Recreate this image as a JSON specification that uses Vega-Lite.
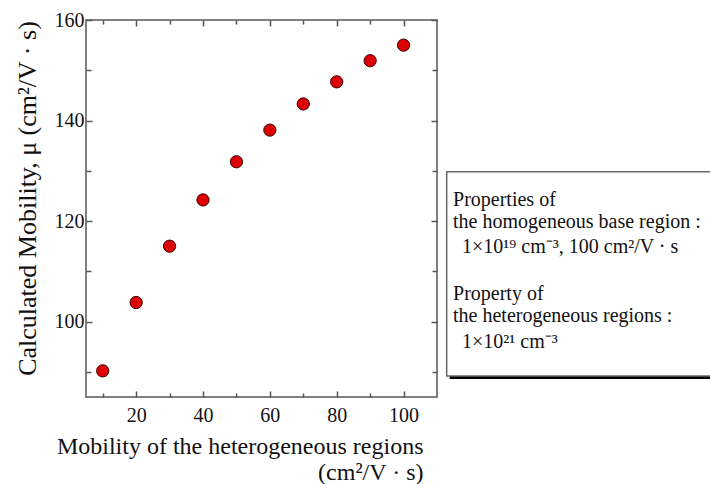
{
  "$schema": "https://vega.github.io/schema/vega-lite/v6.json",
  "width": 351,
  "height": 377,
  "autosize": {"type": "none"},
  "padding": {"left": 86, "top": 20, "right": 273, "bottom": 87},
  "background": "white",
  "config": {
    "view": {"stroke": "#808080", "strokeWidth": 2},
    "font": "Liberation Serif",
    "axis": {
      "domain": false,
      "grid": false,
      "tickColor": "#555555",
      "tickWidth": 1.5,
      "labelFont": "Liberation Serif",
      "labelFontSize": 20,
      "labelColor": "#111111",
      "titleFont": "Liberation Serif",
      "titleFontWeight": "normal",
      "titleColor": "#111111"
    }
  },
  "datasets": {
    "pts": [
      {"het": 10, "mu": 90.2},
      {"het": 20, "mu": 103.8},
      {"het": 30, "mu": 115.0},
      {"het": 40, "mu": 124.2},
      {"het": 50, "mu": 131.8},
      {"het": 60, "mu": 138.1},
      {"het": 70, "mu": 143.3},
      {"het": 80, "mu": 147.7},
      {"het": 90, "mu": 151.9},
      {"het": 100, "mu": 155.0}
    ],
    "notes": [
      {"para": 1, "kind": "heading", "text": "Properties of\nthe homogeneous base region  :"},
      {"para": 2, "kind": "value", "text": "1×10¹⁹ cm⁻³, 100 cm²/V · s"},
      {"para": 3, "kind": "heading", "text": "Property of\nthe heterogeneous regions  :"},
      {"para": 4, "kind": "value", "text": "1×10²¹ cm⁻³"}
    ]
  },
  "layer": [
    {
      "data": {"values": [{}]},
      "mark": {"type": "rect", "fill": "#000000", "clip": false},
      "encoding": {
        "x": {"datum": 113.8, "type": "quantitative", "scale": {"domain": [5, 110], "nice": false, "zero": false}, "axis": null},
        "x2": {"datum": 196},
        "y": {"datum": 129.2, "type": "quantitative", "scale": {"domain": [85, 160], "nice": false, "zero": false}, "axis": null},
        "y2": {"datum": 88.6}
      }
    },
    {
      "data": {"values": [{}]},
      "mark": {"type": "rect", "fill": "#ffffff", "stroke": "#666666", "strokeWidth": 1.5, "clip": false},
      "encoding": {
        "x": {"datum": 112.9, "type": "quantitative", "scale": {"domain": [5, 110], "nice": false, "zero": false}, "axis": null},
        "x2": {"datum": 195},
        "y": {"datum": 129.8, "type": "quantitative", "scale": {"domain": [85, 160], "nice": false, "zero": false}, "axis": null},
        "y2": {"datum": 89.2}
      }
    },
    {
      "data": {"name": "notes"},
      "transform": [{"filter": "datum.kind === 'heading'"}],
      "mark": {"type": "text", "align": "left", "baseline": "alphabetic", "font": "Liberation Serif", "fontSize": 20, "lineBreak": "\n", "lineHeight": 22, "color": "#111111", "clip": false},
      "encoding": {
        "x": {"datum": 114.8, "type": "quantitative", "scale": {"domain": [5, 110], "nice": false, "zero": false}, "axis": null},
        "y": {"field": "para", "type": "quantitative", "scale": {"domain": [-2.95, 5.05], "reverse": true, "nice": false, "zero": false}, "axis": null},
        "text": {"field": "text", "type": "nominal"}
      }
    },
    {
      "data": {"name": "notes"},
      "transform": [{"filter": "datum.kind === 'value'"}],
      "mark": {"type": "text", "align": "left", "baseline": "alphabetic", "font": "Liberation Serif", "fontSize": 20, "lineBreak": "\n", "lineHeight": 22, "color": "#111111", "clip": false},
      "encoding": {
        "x": {"datum": 117.5, "type": "quantitative", "scale": {"domain": [5, 110], "nice": false, "zero": false}, "axis": null},
        "y": {"field": "para", "type": "quantitative", "scale": {"domain": [-2.95, 5.05], "reverse": true, "nice": false, "zero": false}, "axis": null},
        "text": {"field": "text", "type": "nominal"}
      }
    },
    {
      "data": {"name": "pts"},
      "mark": {"type": "point", "filled": true, "shape": "circle", "size": 150, "fill": "#dd0000", "stroke": "#3a0000", "strokeWidth": 1, "opacity": 1},
      "encoding": {
        "x": {
          "field": "het", "type": "quantitative",
          "scale": {"domain": [5, 110], "nice": false, "zero": false},
          "axis": {
            "orient": "bottom",
            "values": [10, 20, 30, 40, 50, 60, 70, 80, 90, 100],
            "labelExpr": "datum.value % 20 === 0 ? datum.label : ''",
            "tickSize": {"condition": {"test": "datum.value % 20 === 0", "value": -6}, "value": -4},
            "labelPadding": 14,
            "title": ["Mobility of the heterogeneous regions", "(cm²/V · s)"],
            "titleFontSize": 24,
            "titleAlign": "right",
            "titleBaseline": "alphabetic",
            "titleLineHeight": 26,
            "titleX": 337,
            "titleY": 56
          }
        },
        "y": {
          "field": "mu", "type": "quantitative",
          "scale": {"domain": [85, 160], "nice": false, "zero": false},
          "axis": {
            "orient": "left",
            "values": [90, 100, 110, 120, 130, 140, 150, 160],
            "labelExpr": "datum.value % 20 === 0 ? datum.label : ''",
            "tickSize": {"condition": {"test": "datum.value % 20 === 0", "value": -6}, "value": -5},
            "labelPadding": 8,
            "title": "Calculated Mobility, μ  (cm²/V · s)",
            "titleFontSize": 26,
            "titleAlign": "center",
            "titleBaseline": "alphabetic",
            "titleAngle": -90,
            "titleX": -51,
            "titleY": 178
          }
        }
      }
    },
    {
      "data": {"name": "pts"},
      "mark": {"type": "point", "filled": true, "opacity": 0},
      "encoding": {
        "x": {
          "field": "het", "type": "quantitative",
          "scale": {"domain": [5, 110], "nice": false, "zero": false},
          "axis": {
            "orient": "top",
            "values": [10, 20, 30, 40, 50, 60, 70, 80, 90, 100],
            "labels": false,
            "title": null,
            "tickSize": {"condition": {"test": "datum.value % 20 === 0", "value": -6}, "value": -4}
          }
        },
        "y": {
          "field": "mu", "type": "quantitative",
          "scale": {"domain": [85, 160], "nice": false, "zero": false},
          "axis": {
            "orient": "right",
            "values": [90, 100, 110, 120, 130, 140, 150, 160],
            "labels": false,
            "title": null,
            "tickSize": {"condition": {"test": "datum.value % 20 === 0", "value": -6}, "value": -5}
          }
        }
      }
    }
  ],
  "resolve": {"scale": {"y": "independent"}}
}
